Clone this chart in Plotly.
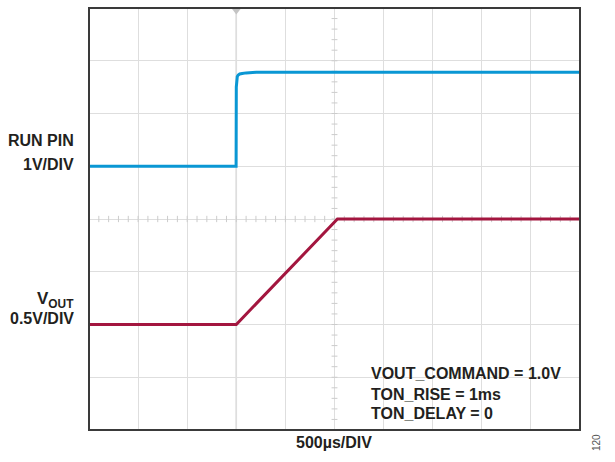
import plotly.graph_objects as go

# ---- data (time in µs, trigger at t=0; 500 µs/div) ----
run_t = [-1500, -2, 0, 4, 10, 20, 35, 60, 100, 200, 600, 3500]
run_v = [0.0, 0.0, 1.50, 1.64, 1.70, 1.73, 1.75, 1.76, 1.77, 1.78, 1.78, 1.78]   # 1 V/div
vout_t = [-1500, 0, 1030, 3500]
vout_v = [0.0, 0.0, 1.0, 1.0]                                  # 0.5 V/div

run_offset_div, run_scale = 5.0, 1.0
vout_offset_div, vout_scale = 2.0, 0.5

x_lo, x_hi, x_div = -1500, 3500, 500
y_lo, y_hi = 0, 8
center_x = 1000
center_y = 4

run_color = "#0a97d4"
vout_color = "#a3163f"
grid_color = "#dedede"
font = "Liberation Sans, Arial, sans-serif"

fig = go.Figure()

# minor ticks on center graticule lines
tx, ty = [], []
dx_div = x_div / 5
k = x_lo
while k <= x_hi + 1e-9:
    tx += [k, k, None]
    ty += [center_y - 0.06, center_y + 0.06, None]
    k += dx_div
k = y_lo
while k <= y_hi + 1e-9:
    tx += [center_x - 30, center_x + 30, None]
    ty += [k, k, None]
    k += 0.2
fig.add_trace(go.Scatter(x=tx, y=ty, mode="lines", line=dict(color="#cccccc", width=1),
                         hoverinfo="skip", showlegend=False))

# trigger line
fig.add_shape(type="line", x0=0, x1=0, y0=y_lo, y1=y_hi, line=dict(color="#cdcdcd", width=1.5), layer="below")

fig.add_trace(go.Scatter(x=run_t, y=[run_offset_div + v / run_scale for v in run_v], mode="lines",
                         line=dict(color=run_color, width=3),
                         showlegend=False))
fig.add_trace(go.Scatter(x=vout_t, y=[vout_offset_div + v / vout_scale for v in vout_v], mode="lines",
                         line=dict(color=vout_color, width=3), showlegend=False))

# trigger marker
fig.add_trace(go.Scatter(x=[0], y=[y_hi - 0.04], mode="markers", cliponaxis=False,
                         marker=dict(symbol="triangle-down", size=9, color="#c4c4c4"),
                         showlegend=False, hoverinfo="skip"))
# level marker for run pin
fig.add_trace(go.Scatter(x=[x_lo - 160, x_lo], y=[run_offset_div, run_offset_div], mode="lines",
                         cliponaxis=False, line=dict(color="#2a4a8a", width=1.5),
                         showlegend=False, hoverinfo="skip"))

fig.add_shape(type="rect", xref="paper", yref="paper", x0=0, x1=1, y0=0, y1=1,
              line=dict(color="#3a3a3a", width=2))

def ann(text, x, y, xanchor="right", size=16, color="#231f20", bold=True, **kw):
    fig.add_annotation(text=f"<b>{text}</b>" if bold else text, xref="paper", yref="paper",
                       x=x, y=y, xanchor=xanchor, yanchor="middle", showarrow=False,
                       font=dict(family=font, size=size, color=color), **kw)

W, H = 615, 462
L, R, T, B = 89, 35, 8, 32
pw, ph = W - L - R, H - T - B
px = lambda p: (p - L) / pw
py = lambda p: 1 - (p - T) / ph

ann("RUN PIN", px(76), py(140))
ann("1V/DIV", px(76), py(164))
ann("V<sub>OUT</sub>", px(76), py(300), size=17)
ann("0.5V/DIV", px(76), py(318))
ann("VOUT_COMMAND = 1.0V", px(369), py(373), xanchor="left")
ann("TON_RISE = 1ms", px(369), py(394), xanchor="left")
ann("TON_DELAY = 0", px(369), py(413), xanchor="left")
ann("500µs/DIV", px(334), py(443), xanchor="center")
ann("120", px(597), py(443), xanchor="center", size=10, color="#555555", bold=False, textangle=-90)

fig.update_layout(
    width=W, height=H, margin=dict(l=L, r=R, t=T, b=B),
    paper_bgcolor="white", plot_bgcolor="white",
    xaxis=dict(range=[x_lo, x_hi], dtick=x_div, tick0=x_lo, showgrid=True, gridcolor=grid_color,
               gridwidth=1, showticklabels=False, ticks="", zeroline=False, showline=False, fixedrange=True),
    yaxis=dict(range=[y_lo, y_hi], dtick=1, tick0=0, showgrid=True, gridcolor=grid_color,
               gridwidth=1, showticklabels=False, ticks="", zeroline=False, showline=False, fixedrange=True),
)

fig.write_html("out.html", config={"displayModeBar": False},
               post_script="document.body.style.margin='0';document.body.style.overflow='hidden';")
